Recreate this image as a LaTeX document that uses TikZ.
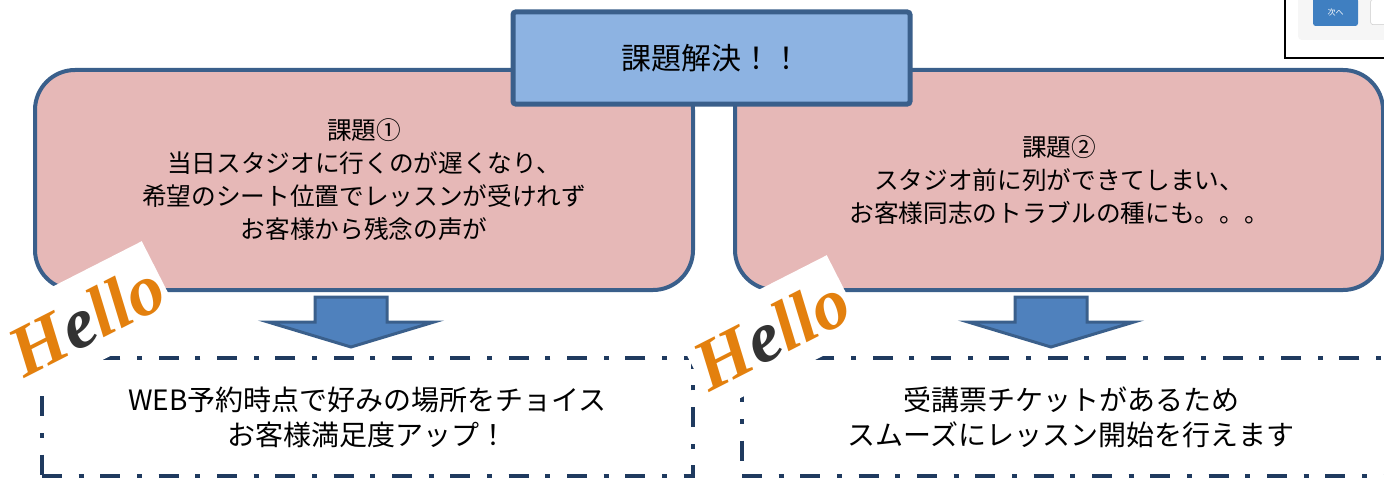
\documentclass[tikz,border=0pt]{standalone}
\usepackage{fontspec}
\setmainfont{Noto Sans CJK JP}
\newfontfamily\hellofont{Liberation Serif}
\usepackage{xcolor}
\usepackage{tikz}
\usetikzlibrary{positioning,calc}

\definecolor{pinkfill}{HTML}{E6B8B7}
\definecolor{boxline}{HTML}{3A5F8B}
\definecolor{titlefill}{HTML}{8DB3E2}
\definecolor{arrowfill}{HTML}{4F81BD}
\definecolor{dashline}{HTML}{1F3A5F}
\definecolor{helloorange}{HTML}{E3800E}
\definecolor{btnblue}{HTML}{3F7FC1}

\newcommand{\hellomark}{\textcolor{helloorange}{H}\textcolor{black!80}{e}\textcolor{helloorange}{llo}}

\begin{document}
\begin{tikzpicture}[
    x=0.75pt, y=-0.75pt,
    issue/.style={rectangle, draw=boxline, line width=3pt, fill=pinkfill, rounded corners=30pt, minimum height=165pt, align=center, font=\fontsize{18.5}{24.75}\selectfont},
    title/.style={rectangle, draw=boxline, line width=3.75pt, fill=titlefill, rounded corners=2pt, minimum width=297.75pt, minimum height=69pt, font=\fontsize{22.5}{26}\selectfont},
    result/.style={rectangle, draw=dashline, line width=3pt, dash pattern=on 15pt off 12.5pt on 3.75pt off 12.5pt, minimum height=88.5pt, align=center, font=\fontsize{21}{26.25}\selectfont},
    paper/.style={rectangle, fill=white, minimum width=127.5pt, minimum height=66pt, inner sep=0pt, rotate=27, font=\hellofont\bfseries\itshape\fontsize{54}{54}\selectfont},
    downarrow/.pic={\draw[draw=boxline, line width=2.25pt, fill=arrowfill] (-36,0) -- (36,0) -- (36,25) -- (83,25) -- (0,50) -- (-83,25) -- (-36,25) -- cycle;}
]
\useasboundingbox (0,0) rectangle (1384,478);
\clip (0,0) rectangle (1384,478);

% issues
\node[issue, minimum width=493.5pt] (issue1) at (364,180) {課題①\\当日スタジオに行くのが遅くなり、\\希望のシート位置でレッスンが受けれず\\お客様から残念の声が};
\node[issue, minimum width=486pt] (issue2) at (1059,180) {課題②\\スタジオ前に列ができてしまい、\\お客様同志のトラブルの種にも。。。};

\node[title] (solve) at (711.5,58) {課題解決！！};

\path (issue1.south) ++(-13,5) pic {downarrow};
\path (issue2.south) ++(-8,5) pic {downarrow};

% results
\node[result, minimum width=488.25pt] (result1) at (367.5,417) {WEB予約時点で好みの場所をチョイス\\お客様満足度アップ！};
\node[result, minimum width=493.5pt] (result2) at (1071,417) {受講票チケットがあるため\\スムーズにレッスン開始を行えます};

\node[paper] (hello1) at (86,319) {\hellomark};
\node[paper] (hello2) at (771,333) {\hellomark};

% screen fragment
\draw[line width=1.5pt, fill=white] (1285,-20) rectangle (1420,58);
\fill[gray!7, rounded corners=3pt] (1298,-20) rectangle (1420,40);
\node[fill=btnblue, rounded corners=2pt, text=white, font=\fontsize{6}{6}\selectfont, minimum width=33.75pt, minimum height=21pt, inner sep=0pt] (next) at (1335.5,12) {次へ};
\node[draw=gray!40, fill=white, rounded corners=2pt, minimum width=37.5pt, minimum height=19pt, inner sep=0pt, right=9pt of next] (back) {};

\end{tikzpicture}
\end{document}
